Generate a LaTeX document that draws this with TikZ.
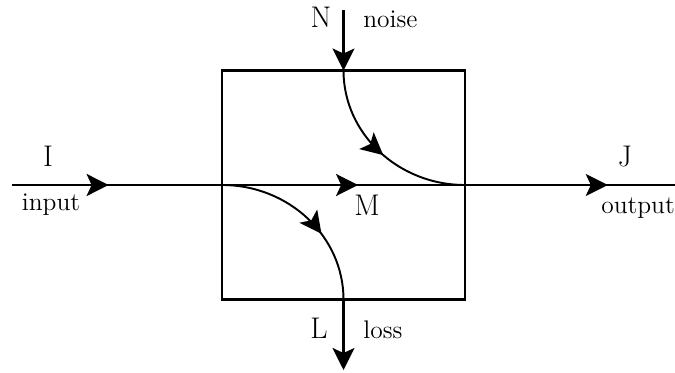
\documentclass[tikz,border=0pt]{standalone}
\usetikzlibrary{arrows.meta,decorations.markings}
\tikzset{
  chanbox/.style={draw,line width=1.4pt,minimum width=4.86cm,minimum height=4.58cm,
    inner sep=0pt,outer sep=0pt},
  big/.style={font=\fontsize{17}{20}\selectfont,inner sep=0pt},
  small/.style={font=\fontsize{14.5}{17}\selectfont,inner sep=0pt},
  flow/.style={line width=1.4pt},
  path/.style={line width=1.1pt},
  midarrow/.style={postaction={decorate},decoration={markings,
    mark=at position #1 with {\arrow{Stealth[length=4.4mm,width=4.4mm,inset=1mm]}}}},
  endarrow/.style={-{Stealth[length=4.4mm,width=4.4mm,inset=1mm]}}
}
\begin{document}
\begin{tikzpicture}[x=0.02cm,y=0.02cm]
  \useasboundingbox (0,0) rectangle (675,372);
  % the channel
  \node[chanbox] (chan) at (343.5,187) {};
  \coordinate (inL) at (12,187);
  \coordinate (outR) at (675,187);
  \coordinate (noiseT) at (343.5,362);
  \coordinate (lossB) at (343.5,2);
  % straight flows
  \draw[flow,midarrow=0.46] (inL) -- (chan.west);
  \draw[flow,midarrow=0.56] (chan.west) -- (chan.east);
  \draw[flow,midarrow=0.68] (chan.east) -- (outR);
  \draw[flow,endarrow] (noiseT) -- (chan.north);
  \draw[flow,endarrow] (chan.south) -- (lossB);
  % curved paths
  \draw[path,midarrow=0.52] (chan.north) .. controls +(0,-63) and +(-67,0) .. (chan.east);
  \draw[path,midarrow=0.62] (chan.west) .. controls +(67,0) and +(0,63) .. (chan.south);
  % labels
  \node[big,anchor=base] (lblI) at (48,205) {I};
  \node[small,anchor=base] (lblin) at (51,162) {input};
  \node[big,anchor=base] (lblN) at (321,344) {N};
  \node[small,anchor=base west] (lblnoise) at (363,344) {noise};
  \node[big,anchor=base] (lblM) at (367,157) {M};
  \node[big,anchor=base] (lblL) at (319,34) {L};
  \node[small,anchor=base west] (lblloss) at (363,34) {loss};
  \node[big,anchor=base] (lblJ) at (625,205) {J};
  \node[small,anchor=base] (lblout) at (638,159) {output};
\end{tikzpicture}
\end{document}
